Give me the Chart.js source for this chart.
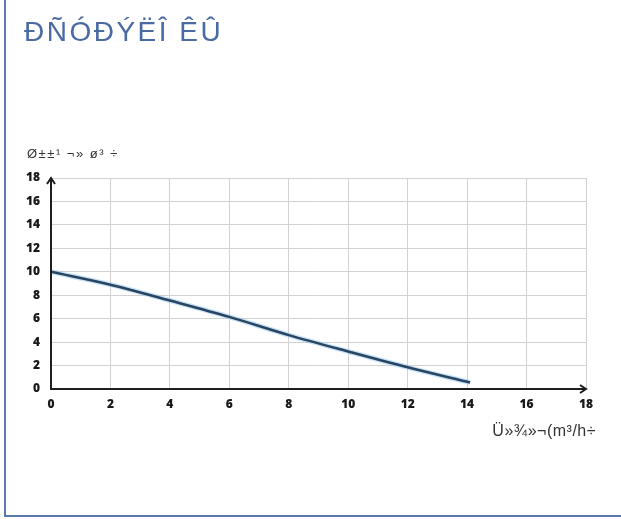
<!DOCTYPE html>
<html>
<head>
<meta charset="utf-8">
<script src="https://cdn.jsdelivr.net/npm/chart.js@4/dist/chart.umd.min.js"></script>
<style>
  html, body { margin: 0; padding: 0; background: #fff; }
  #wrap { position: relative; width: 621px; height: 519px; }
  #frame { position: absolute; left: 4px; top: 0; width: 617px; height: 517px;
           border-left: 2px solid #5b78ad; border-bottom: 2px solid #5b78ad; box-sizing: border-box; }
  canvas { position: absolute; left: 0; top: 0; }
</style>
</head>
<body>
<div id="wrap">
  <div id="frame"></div>
  <canvas id="c" width="621" height="519"></canvas>
</div>
<script>
const titleText = "ĐÑÓĐÝËÎ ÊÛ";
const yAxisTitle = "Ø±±¹ ¬» ø³ ÷";
const xAxisTitle = "Ü»¾»¬(m³/h÷";
const flowValues = [0, 2, 4, 6, 8, 10, 12, 14.1];
const headValues = [10, 8.9, 7.55, 6.15, 4.6, 3.2, 1.85, 0.55];
const tickStep = 2;
const axisMax = 18;

const points = flowValues.map((x, i) => ({ x: x, y: headValues[i] }));

const decor = {
  id: 'decor',
  afterDraw(chart) {
    const ctx = chart.ctx;
    const xs = chart.scales.x, ys = chart.scales.y;
    const x0 = xs.getPixelForValue(0), y0 = ys.getPixelForValue(0);
    const xEnd = xs.getPixelForValue(axisMax), yEnd = ys.getPixelForValue(axisMax);
    ctx.save();
    ctx.strokeStyle = '#1e1e1e';
    ctx.lineWidth = 2;
    ctx.beginPath();
    ctx.moveTo(x0, y0 + 1); ctx.lineTo(x0, yEnd + 1);
    ctx.moveTo(x0 - 1, y0); ctx.lineTo(xEnd - 1, y0);
    ctx.stroke();
    ctx.beginPath();
    ctx.moveTo(x0 - 4, yEnd + 6); ctx.lineTo(x0, yEnd); ctx.lineTo(x0 + 4, yEnd + 6);
    ctx.moveTo(xEnd - 6, y0 - 4); ctx.lineTo(xEnd, y0); ctx.lineTo(xEnd - 6, y0 + 4);
    ctx.stroke();
    ctx.fillStyle = '#4a6aa4';
    ctx.font = '28px "Liberation Sans", Arial, sans-serif';
    ctx.textBaseline = 'alphabetic';
    ctx.textAlign = 'left';
    ctx.letterSpacing = '2.5px';
    ctx.fillText(titleText, 24, 41);
    ctx.fillStyle = '#333';
    ctx.font = '13px "Liberation Sans", Arial, sans-serif';
    ctx.letterSpacing = '1.5px';
    ctx.fillText(yAxisTitle, 27, 158);
    ctx.font = '16px "Liberation Sans", Arial, sans-serif';
    ctx.letterSpacing = '0.5px';
    ctx.textAlign = 'right';
    ctx.fillText(xAxisTitle, 596, 436);
    ctx.restore();
  }
};

const tickFont = { family: '"Open Sans", sans-serif', weight: '800', size: 12 };

new Chart(document.getElementById('c'), {
  type: 'line',
  data: {
    datasets: [
      { data: points, borderColor: '#2a4561', borderWidth: 2.5, pointRadius: 0, tension: 0.25, cubicInterpolationMode: 'monotone', order: 1 },
      { data: points, borderColor: 'rgba(140,195,240,0.5)', borderWidth: 5, pointRadius: 0, tension: 0.25, cubicInterpolationMode: 'monotone', order: 2 }
    ]
  },
  options: {
    responsive: false,
    animation: false,
    layout: { padding: { top: 178, right: 35, bottom: 100, left: 0 } },
    plugins: { legend: { display: false }, tooltip: { enabled: false }, title: { display: false } },
    scales: {
      x: {
        type: 'linear', min: 0, max: axisMax,
        ticks: { stepSize: tickStep, color: '#1a1a1a', font: tickFont, padding: 8 },
        grid: { color: '#d2d2d2', lineWidth: 1, drawTicks: false },
        border: { display: false },
        afterFit(s) { s.height = 30; }
      },
      y: {
        type: 'linear', min: 0, max: axisMax,
        ticks: { stepSize: tickStep, color: '#1a1a1a', font: tickFont, padding: 11 },
        grid: { color: '#d2d2d2', lineWidth: 1, drawTicks: false },
        border: { display: false },
        afterFit(s) { s.width = 51; }
      }
    }
  },
  plugins: [decor]
});
</script>
</body>
</html>
